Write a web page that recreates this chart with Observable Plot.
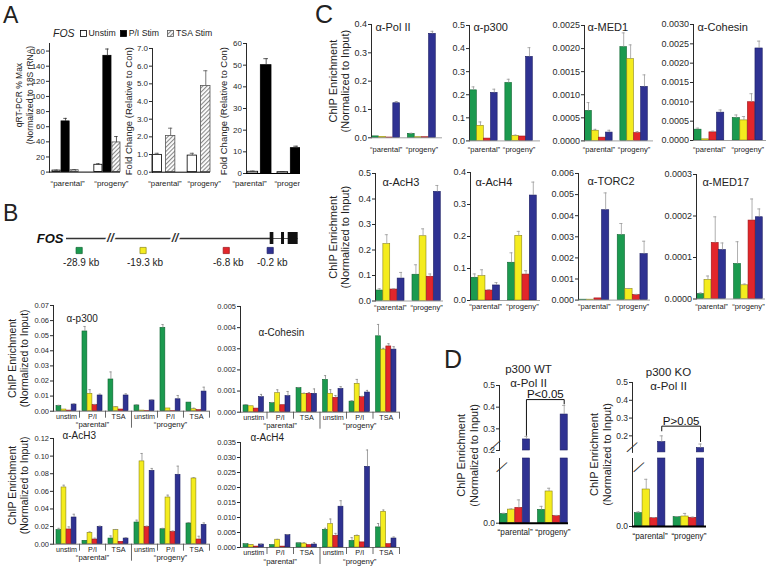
<!DOCTYPE html>
<html><head><meta charset="utf-8">
<script src="https://cdn.jsdelivr.net/npm/d3@7"></script>
<script src="https://cdn.jsdelivr.net/npm/@observablehq/plot@0.6"></script>
<style>
html,body{margin:0;padding:0;background:#fff;}
#fig{position:relative;width:770px;height:568px;overflow:hidden;background:#fff;font-family:'Liberation Sans',Arial,Helvetica,sans-serif;color:#222;}
.plab{position:absolute;line-height:1;font-weight:normal;}
</style></head>
<body>
<svg width="0" height="0" style="position:absolute"><defs>
<pattern id="hatch" width="3" height="3" patternUnits="userSpaceOnUse" patternTransform="rotate(45)">
<rect width="3" height="3" fill="#ffffff"/><rect width="1.1" height="3" fill="#8a8a8a"/></pattern></defs></svg>
<div id="fig"></div>
<script>
// ================= DATA =================
const cellLines = ["parental", "progeny"];
const conditions = ["unstim", "P/I", "TSA"];
const sites = ["-28.9 kb", "-19.3 kb", "-6.8 kb", "-0.2 kb"];
const siteKb = [-28.9, -19.3, -6.8, -0.2];
const siteFill = ["#1b9a4f", "#f4ec1e", "#e2262b", "#2f3292"];
const siteEdge = ["#0f6431", "#8c8615", "#9a1418", "#1b1e63"];

// gene schematic (kb)
const geneName = "FOS";
const geneSpanKb = [-30.8, 0];
const geneBodyKb = [0, 4.0];
const exonsKb = [[-0.2, 0.35], [1.5, 1.95], [2.5, 4.0]];
const breaksKb = [-24.2, -14.5];

// Panel A
const aSeries = ["Unstim", "P/I Stim", "TSA Stim"];
const aFill = ["#ffffff", "#000000", "url(#hatch)"];
const aEdge = ["#000000", "#000000", "#555555"];
const a1Val = [[2.0, 67, 2.5], [9.7, 153.7, 39.2]];
const a1Err = [[0.5, 4, 0.5], [1.3, 9, 7.8]];
const a1Ticks = [0, 20, 40, 60, 80, 100, 120, 140, 160];
const a2Val = [[0.98, 2.05], [0.94, 4.88]];
const a2Err = [[0.09, 0.44], [0.13, 0.86]];
const a2Ticks = [0, 1, 2, 3, 4, 5, 6, 7];
const a3Val = [[0.8, 50], [0.6, 11.7]];
const a3Err = [[0.3, 3], [0.3, 0.9]];
const a3Ticks = [0, 10, 20, 30, 40, 50, 60];

// Panel B (rows: parental unstim, P/I, TSA, progeny unstim, P/I, TSA; cols: sites)
const bP300Val = [[0.0035,0.0011,0.0004,0.0044],[0.0528,0.0115,0.0040,0.0104],[0.0210,0.0026,0.0011,0.0104],[0.0038,0.0004,0.0002,0.0071],[0.0552,0.0018,0.0002,0.0079],[0.0057,0.0013,0.0007,0.0130]];
const bP300Err = [[0.0004,0,0,0.0005],[0.0033,0.0028,0.0005,0.0009],[0.0050,0.0004,0,0.0011],[0.0004,0,0,0.0004],[0.0022,0,0,0.0025],[0,0.0007,0,0.0029]];
const bP300Ticks = [0,0.01,0.02,0.03,0.04,0.05,0.06,0.07];
const bCohVal = [[0.00032,0.00028,0.00017,0.00071],[0.00043,0.00090,0.00033,0.00076],[0.00114,0.00087,0.00087,0.00087],[0.00153,0.00087,0.00068,0.00110],[0.00050,0.00134,0.00071,0.00093],[0.00359,0.00296,0.00311,0.00296]];
const bCohErr = [[0.00004,0,0,0.00013],[0.00003,0.00016,0,0.00022],[0.00003,0.00003,0.00006,0.00023],[0.00020,0.00020,0.00011,0.00011],[0.00004,0.00021,0.00004,0.00010],[0.00056,0.00006,0.00013,0.00014]];
const bCohTicks = [0,0.001,0.002,0.003,0.004,0.005];
const bAcH3Val = [[0.016,0.0644,0.0167,0.0303],[0.0038,0.0129,0.0053,0.0197],[0.0064,0.0159,0.0027,0.0064],[0.0246,0.094,0.0197,0.0833],[0.017,0.053,0.014,0.0788],[0.0235,0.0746,0.0053,0.022]];
const bAcH3Err = [[0.002,0.0026,0.003,0.0037],[0,0.001,0.0015,0.0008],[0.003,0.0008,0,0.001],[0.0027,0.009,0.0008,0.0027],[0.001,0.0027,0.001,0.0098],[0.001,0.001,0.0037,0.0022]];
const bAcH3Ticks = [0,0.02,0.04,0.06,0.08,0.10,0.12];
const bAcH4Val = [[0.0011,0.0009,0.0003,0.0010],[0.0008,0.0026,0.0003,0.0041],[0.0014,0.0013,0.0008,0.0010],[0.0059,0.0078,0.0039,0.0136],[0.0022,0.0039,0.0017,0.0269],[0.0067,0.0119,0.0011,0.0030]];
const bAcH4Err = [[0.0001,0.0001,0,0.0001],[0,0.0001,0,0.0002],[0.0001,0.0003,0,0.0006],[0.0005,0.0017,0.0008,0.002],[0.0011,0.0002,0,0.0056],[0.0013,0.0006,0,0.0005]];
const bAcH4Ticks = [0,0.005,0.010,0.015,0.020,0.025,0.030,0.035];

// Panel C (rows: parental, progeny; cols: sites)
const cPolIIVal = [[0.005,0.0035,0.001,0.122],[0.014,0.002,0.002,0.367]];
const cPolIIErr = [[0,0,0,0.006],[0.002,0,0,0.009]];
const cP300Val = [[0.219,0.065,0.010,0.208],[0.251,0.022,0.019,0.364]];
const cP300Err = [[0.015,0.017,0,0.016],[0.016,0.003,0,0.040]];
const cMed1Val = [[0.00065,0.00022,0.00007,0.00018],[0.00203,0.00177,0.00017,0.00117]];
const cMed1Err = [[0.00018,0.00003,0,0.00005],[0.00031,0.00031,0.00003,0.00026]];
const cCohVal = [[0.00028,0.00003,0.00021,0.00072],[0.00058,0.00052,0.00099,0.00238]];
const cCohErr = [[0.00004,0,0.00003,0.00007],[0.00008,0.0001,0.00022,0.00019]];
const cAcH3Val = [[0.041,0.223,0.045,0.088],[0.103,0.254,0.095,0.428]];
const cAcH3Err = [[0.007,0.037,0.003,0.024],[0.039,0.029,0.011,0.025]];
const cAcH4Val = [[0.071,0.076,0.031,0.047],[0.118,0.202,0.081,0.328]];
const cAcH4Err = [[0.012,0.02,0.003,0.009],[0.031,0.014,0.012,0.042]];
const cTorc2Val = [[0.00002,0.00002,0.00008,0.00426],[0.00308,0.00052,0.00024,0.00218]];
const cTorc2Err = [[0,0,0,0.00082],[0.00055,0.00003,0.00003,0.00061]];
const cMed17Val = [[0.000012,0.0000458,0.000135,0.000118],[0.0000843,0.000033,0.000189,0.000197]];
const cMed17Err = [[0.0000025,0.0000096,0.000063,0.000017],[0.0000537,0.000003,0.000052,0.00002]];
const ticks04 = [0,0.1,0.2,0.3,0.4];
const ticks05 = [0,0.1,0.2,0.3,0.4,0.5];
const ticksMed1 = [0,0.0005,0.0010,0.0015,0.0020,0.0025];
const ticksCoh = [0,0.0005,0.0010,0.0015,0.0020,0.0025,0.0030];
const ticksTorc2 = [0,0.001,0.002,0.003,0.004,0.005,0.006];
const ticksMed17 = [0,0.0001,0.0002,0.0003];

// Panel D
const dWtVal = [[0.0143,0.021,0.0236,0.251],[0.0205,0.049,0.011,0.366]];
const dWtErr = [[0.001,0.001,0.0124,0.014],[0.0055,0.005,0.001,0.042]];
const dKoVal = [[0.0196,0.0544,0.0122,0.165],[0.0137,0.0147,0.0128,0.131]];
const dKoErr = [[0.002,0.015,0.001,0.035],[0.001,0.0045,0.001,0.023]];
const dUpperTicks = [0.2,0.3,0.4,0.5];
const dWtBracket = [0.27, 0.435, 0.435, 0.415];
const dKoBracket = [0.228, 0.2545, 0.2545, 0.168];

const yTitleChIP = "ChIP Enrichment\n(Normalized to Input)";

// ================= HELPERS =================
const FONT = "'Liberation Sans', Arial, Helvetica, sans-serif";
const fig = document.getElementById("fig");
const M = {l: 70, r: 20, t: 34, b: 36};

function put(svg, x0, yTop, parent) {
  const d = document.createElement("div");
  const w = svg.getAttribute("width");
  d.style.cssText = `position:absolute;left:${x0 - M.l}px;top:${yTop - M.t}px;width:${w}px;`;
  d.appendChild(svg); (parent || fig).appendChild(d);
}
function frameOpts(x0, x1, yTop, yBot, fs) {
  return {width: x1 - x0 + M.l + M.r, height: yBot - yTop + M.t + M.b,
    marginLeft: M.l, marginRight: M.r, marginTop: M.t, marginBottom: M.b,
    style: {background: "transparent", overflow: "visible", maxWidth: "none", fontFamily: FONT, fontSize: fs + "px", color: "#2a2a2a"}};
}

function grouped(o) {
  const [x0, x1, yTop, yBot] = o.box;
  const [ax0, ax1] = o.axis || [x0, x1];
  const keys = o.groups.map(g => g.key);
  const rows = [];
  o.groups.forEach((g, gi) => o.series.forEach((s, si) =>
    rows.push({key: g.key, s, si, v: o.vals[gi][si], e: o.errs[gi][si]})));
  const errRows = rows.filter(r => r.e > 0);
  const fxS = d3.scaleBand().domain(keys).range([x0, x1]).paddingInner(o.pi).paddingOuter(o.po);
  const xS = d3.scaleBand().domain(o.series).range([0, fxS.bandwidth()]).paddingInner(o.barPad).paddingOuter(0);
  const cap = xS.bandwidth() * 0.28;
  const marks = o.series.map((s, si) => Plot.barY(rows.filter(r => r.si === si),
    {fx: "key", x: "s", y: "v", fill: o.fills[si], stroke: o.edges[si], strokeWidth: o.edgeWidth || 0.6}));
  marks.push(Plot.ruleX(errRows, {fx: "key", x: "s", y1: "v", y2: r => r.v + r.e, stroke: o.errColor, strokeWidth: 0.8}));
  marks.push(Plot.tickY(errRows, {fx: "key", x: "s", y: r => r.v + r.e, stroke: o.errColor, strokeWidth: 0.8, insetLeft: cap, insetRight: cap}));
  for (const L of o.labels) marks.push(Plot.text(o.groups.filter(L.filter || (() => true)),
    {fx: "key", text: L.text, frameAnchor: "bottom", textAnchor: "middle", dx: L.dx || 0, dy: L.dy, fontSize: L.size, lineAnchor: "middle", fill: "#222"}));
  put(Plot.plot({...frameOpts(x0, x1, yTop, yBot, o.tickFont),
    fx: {domain: keys, paddingInner: o.pi, paddingOuter: o.po, round: false, axis: null, label: null},
    x: {domain: o.series, paddingInner: o.barPad, paddingOuter: 0, round: false, axis: null},
    y: {domain: o.yDomain, axis: null},
    marks}), x0, yTop, o.parent);

  const H = yBot - yTop;
  const ov = [Plot.ruleY([0], {stroke: o.baseColor || "#555", strokeWidth: o.baseWidth || 0.8})];
  if (o.seps) {
    ov.push(Plot.ruleX(o.seps[0], {insetTop: H, insetBottom: -7, stroke: "#444", strokeWidth: 0.8}));
    ov.push(Plot.ruleX(o.seps[1], {insetTop: H, insetBottom: -17, stroke: "#444", strokeWidth: 0.8}));
  }
  if (o.title) ov.push(Plot.text([o.title], {text: d => d, frameAnchor: "top-left", textAnchor: "start", lineAnchor: "middle",
    dx: o.titleAt[0], dy: o.titleAt[1], fontSize: o.titleSize, fill: "#222"}));
  if (o.ytitle) ov.push(Plot.text([o.ytitle], {text: d => d, frameAnchor: "left", textAnchor: "middle", lineAnchor: "middle", rotate: -90,
    dx: o.ytitleAt[0], dy: o.ytitleAt[1], fontSize: o.ytitleSize, lineHeight: o.ytitleLH || 1.15, fill: "#222"}));
  put(Plot.plot({...frameOpts(ax0, ax1, yTop, yBot, o.tickFont),
    x: {domain: [0, keys.length], axis: null},
    y: {domain: o.yDomain, ticks: o.yTicks, tickFormat: d3.format(o.fmt), tickSize: 3, tickPadding: 1.5, label: null, line: true},
    marks: ov}), ax0, yTop, o.parent);
}

function broken(o) {
  const keys = [...sites.map(s => `${cellLines[0]}|${s}`), "gap", ...sites.map(s => `${cellLines[1]}|${s}`)];
  const rows = [];
  cellLines.forEach((l, li) => sites.forEach((s, si) => rows.push({key: `${l}|${s}`, si, v: o.vals[li][si], e: o.errs[li][si]})));
  const xS = d3.scaleBand().domain(keys).range([0, o.x1 - o.x0]).paddingInner(o.pi).paddingOuter(o.po);
  const half = xS.step() / 2, cap = xS.bandwidth() * 0.28;
  const xOpt = {domain: keys, paddingInner: o.pi, paddingOuter: o.po, round: false, axis: null};
  const U = o.upper, L = o.lower;
  const blueKey = l => `${l}|${sites[3]}`;
  // upper segment
  const up = rows.filter(r => r.v > U.lo);
  const upErr = up.filter(r => r.e > 0);
  const um = sites.map((s, si) => Plot.barY(up.filter(r => r.si === si),
    {x: "key", y1: () => U.lo, y2: "v", fill: siteFill[si], stroke: siteEdge[si], strokeWidth: 0.6}));
  um.push(Plot.ruleX(upErr, {x: "key", y1: "v", y2: r => r.v + r.e, stroke: "#999", strokeWidth: 0.8}));
  um.push(Plot.tickY(upErr, {x: "key", y: r => r.v + r.e, stroke: "#999", strokeWidth: 0.8, insetLeft: cap, insetRight: cap}));
  const br = o.bracket.map((y, i) => ({key: blueKey(cellLines[i < 2 ? 0 : 1]), y}));
  um.push(Plot.line(br, {x: "key", y: "y", stroke: "#111", strokeWidth: 1}));
  um.push(Plot.text([{key: `${cellLines[1]}|${sites[0]}`, y: o.bracket[1], t: o.pLabel}],
    {x: "key", y: "y", text: "t", dx: half, dy: -1.5, textAnchor: "middle", lineAnchor: "bottom", fontSize: 11.5, fill: "#111"}));
  um.push(Plot.text([o.title], {text: d => d, frameAnchor: "top-left", textAnchor: "middle", dx: o.titleAt[0], dy: o.titleAt[1],
    lineAnchor: "middle", fontSize: 11.5, lineHeight: 1.2, fill: "#222"}));
  um.push(Plot.text(["—"], {text: d => d, frameAnchor: "bottom-left", textAnchor: "middle", rotate: -42, fontSize: 14, dx: o.slashDx, dy: -2.5, fill: "#333"}));
  put(Plot.plot({...frameOpts(o.x0, o.x1, U.top, U.bottom, 8.5),
    x: xOpt,
    y: {domain: [U.lo, 0.5], clamp: true, ticks: dUpperTicks, tickFormat: d3.format(".1f"), tickSize: 3, tickPadding: 1.5, label: null, line: true},
    marks: um}), o.x0, U.top);
  // lower segment
  const loErr = rows.filter(r => r.e > 0 && r.v + r.e < L.hi);
  const lm = sites.map((s, si) => Plot.barY(rows.filter(r => r.si === si),
    {x: "key", y1: () => 0, y2: "v", fill: siteFill[si], stroke: siteEdge[si], strokeWidth: 0.6}));
  lm.push(Plot.ruleX(loErr, {x: "key", y1: "v", y2: r => r.v + r.e, stroke: "#999", strokeWidth: 0.8}));
  lm.push(Plot.tickY(loErr, {x: "key", y: r => r.v + r.e, stroke: "#999", strokeWidth: 0.8, insetLeft: cap, insetRight: cap}));
  lm.push(Plot.ruleY([0], {stroke: "#000", strokeWidth: 2}));
  lm.push(Plot.text(cellLines, {x: l => `${l}|${sites[1]}`, text: l => `“${l}”`, frameAnchor: "bottom", textAnchor: "middle", dx: half, dy: 9.5, fontSize: 8.2, lineAnchor: "middle", fill: "#222"}));
  lm.push(Plot.text(["—"], {text: d => d, frameAnchor: "top-left", textAnchor: "middle", rotate: -42, fontSize: 14, dx: o.slashDx, dy: 4, fill: "#333"}));
  lm.push(Plot.text([yTitleChIP], {text: d => d, frameAnchor: "left", textAnchor: "middle", lineAnchor: "middle", rotate: -90, dx: -32, dy: o.ytitleDy, fontSize: 11, lineHeight: 1.15, fill: "#222"}));
  put(Plot.plot({...frameOpts(o.x0, o.x1, L.top, L.bottom, 8.5),
    x: xOpt,
    y: {domain: [0, L.hi], clamp: true, ticks: [0], tickFormat: d3.format(".1f"), tickSize: 3, tickPadding: 1.5, label: null, line: true},
    marks: lm}), o.x0, L.top);
}

function letter(t, x, y, fs) {
  const d = document.createElement("div");
  d.className = "plab"; d.textContent = t;
  d.style.left = x + "px"; d.style.top = y + "px"; d.style.fontSize = fs + "px";
  fig.appendChild(d);
}

// ================= PANEL A =================
letter("A", 3, 3.7, 23);
{
  const leg = document.createElement("div");
  leg.style.cssText = "position:absolute;left:53px;top:27px;display:flex;align-items:center;font-size:8.7px;line-height:12px;white-space:nowrap;";
  let h = `<span style="font-style:italic;font-size:10.5px;margin-right:5px">${geneName}</span>`;
  aSeries.forEach((s, i) => {
    h += `<svg width="7" height="7" style="margin-right:2px"><rect x="0.5" y="0.5" width="6" height="6" fill="${aFill[i]}" stroke="${aEdge[i]}" stroke-width="0.8"/></svg><span style="margin-right:${i === 1 ? 8 : 4}px">${s}</span>`;
  });
  leg.innerHTML = h; fig.appendChild(leg);
}
const lineGroups = cellLines.map(l => ({key: l, line: l}));
const quoteLabel = g => `“${g.line}”`;
grouped({vals: a1Val, errs: a1Err, groups: lineGroups, series: aSeries, fills: aFill, edges: aEdge, edgeWidth: 0.8,
  box: [52, 120, 43.4, 172], axis: [49, 120], pi: 0.375, po: 0, barPad: 0.1,
  yDomain: [0, 170], yTicks: a1Ticks, fmt: "d", tickFont: 8, errColor: "#333", baseColor: "#000", baseWidth: 1,
  labels: [{text: quoteLabel, dy: 11, size: 8, filter: g => g.line === "parental", dx: 2}, {text: quoteLabel, dy: 11, size: 8, filter: g => g.line === "progeny", dx: 4}],
  ytitle: "qRT-PCR % Max\n(Normalized to 18S rRNA)", ytitleAt: [-26, -12.7], ytitleSize: 8.5, ytitleLH: 1.3});
grouped({vals: a2Val, errs: a2Err, groups: lineGroups, series: [aSeries[0], aSeries[2]], fills: [aFill[0], aFill[2]], edges: [aEdge[0], aEdge[2]], edgeWidth: 0.8,
  box: [152, 210, 48.3, 172], axis: [152, 210], pi: 0.35, po: 0, barPad: 0.3,
  yDomain: [0, 7], yTicks: a2Ticks, fmt: ".1f", tickFont: 8, errColor: "#555", baseColor: "#000", baseWidth: 1,
  labels: [{text: quoteLabel, dy: 11, size: 7.8, filter: g => g.line === "parental", dx: 1}, {text: quoteLabel, dy: 11, size: 7.8, filter: g => g.line === "progeny", dx: 5}],
  ytitle: "Fold Change (Relative to Con)", ytitleAt: [-24, 0.8], ytitleSize: 9.5});
{
  const clip = document.createElement("div");
  clip.style.cssText = "position:absolute;left:0;top:0;width:300px;height:200px;overflow:hidden;";
  fig.appendChild(clip);
  grouped({vals: a3Val, errs: a3Err, groups: lineGroups, series: [aSeries[0], aSeries[1]], fills: [aFill[0], aFill[1]], edges: [aEdge[0], aEdge[1]], edgeWidth: 0.8,
    box: [247, 301, 43.3, 173.3], axis: [246, 301], pi: 0.2, po: 0, barPad: 0.2,
    yDomain: [0, 60], yTicks: a3Ticks, fmt: "d", tickFont: 8, errColor: "#333", baseColor: "#000", baseWidth: 1,
    labels: [{text: quoteLabel, dy: 10, size: 8, filter: g => g.line === "parental", dx: -10}, {text: quoteLabel, dy: 10, size: 8, filter: g => g.line === "progeny", dx: 2}],
    ytitle: "Fold Change (Relative to Con)", ytitleAt: [-23, 2.7], ytitleSize: 9.5, parent: clip});
}

// ================= PANEL B =================
letter("B", 3, 202, 23);
{
  const probes = siteKb.map((k, i) => ({k, i}));
  const gm = [
    Plot.ruleY([{a: geneSpanKb[0], b: geneSpanKb[1]}], {x1: "a", x2: "b", y: () => 0, stroke: "#333", strokeWidth: 1.6}),
    Plot.ruleY([{a: geneBodyKb[0], b: geneBodyKb[1]}], {x1: "a", x2: "b", y: () => 0, stroke: "#333", strokeWidth: 0.8}),
    Plot.rect(exonsKb, {x1: d => d[0], x2: d => d[1], insetTop: 19, insetBottom: 19, fill: "#111"}),
    Plot.text(breaksKb, {x: d => d, text: () => "//", fontSize: 12, fontWeight: "bold", fontStyle: "italic", fill: "#333", stroke: "#fff", strokeWidth: 4}),
    Plot.text([geneName], {x: () => geneSpanKb[0], text: d => d, dx: -3, textAnchor: "end", fontSize: 13, fontWeight: "bold", fontStyle: "italic", fill: "#111"}),
    ...siteKb.map((k, i) => Plot.dot([probes[i]], {x: "k", symbol: "square", r: 3.5, fill: siteFill[i], stroke: siteEdge[i], strokeWidth: 0.7, dy: 12})),
    Plot.text(probes, {x: "k", text: d => sites[d.i], dx: 2, dy: 24, fontSize: 10, fill: "#222"})
  ];
  const g = Plot.plot({width: 310, height: 50, marginLeft: 66, marginRight: 11, marginTop: 0, marginBottom: 0,
    style: {background: "transparent", overflow: "visible", maxWidth: "none", fontFamily: FONT},
    x: {domain: [-30.8, 4.2], axis: null}, y: {domain: [-1, 1], axis: null}, marks: gm});
  const d = document.createElement("div");
  d.style.cssText = "position:absolute;left:0;top:213px;width:310px;";
  d.appendChild(g); fig.appendChild(d);
}
const condGroups = cellLines.flatMap(l => conditions.map(c => ({key: `${l}|${c}`, line: l, cond: c})));
const bLabels = [{text: "cond", dy: 5.5, size: 7.2}, {text: quoteLabel, dy: 13.5, size: 7.8, filter: g => g.cond === "P/I"}];
const bSeps = [[1, 2, 4, 5, 6], [3]];
const bCommon = {groups: condGroups, series: sites, fills: siteFill, edges: siteEdge, pi: 0.23, po: 0.115, barPad: 0.04,
  tickFont: 7.5, errColor: "#8a8a8a", baseColor: "#555", labels: bLabels, seps: bSeps, titleSize: 10};
grouped({...bCommon, vals: bP300Val, errs: bP300Err, box: [53, 209, 305, 410.7], yDomain: [0, 0.07], yTicks: bP300Ticks, fmt: ".2f",
  title: "α-p300", titleAt: [13, 13], ytitle: yTitleChIP, ytitleAt: [-35, 0], ytitleSize: 10.5});
grouped({...bCommon, vals: bCohVal, errs: bCohErr, box: [240, 399, 306, 411.7], yDomain: [0, 0.005], yTicks: bCohTicks, fmt: ".3f",
  title: "α-Cohesin", titleAt: [18, 26]});
grouped({...bCommon, vals: bAcH3Val, errs: bAcH3Err, box: [53, 209, 438.3, 544], yDomain: [0, 0.12], yTicks: bAcH3Ticks, fmt: ".2f",
  title: "α-AcH3", titleAt: [9, -3], ytitle: yTitleChIP, ytitleAt: [-35, -6], ytitleSize: 10.5});
grouped({...bCommon, vals: bAcH4Val, errs: bAcH4Err, box: [240, 399, 441.7, 546.7], yDomain: [0, 0.035], yTicks: bAcH4Ticks, fmt: ".3f",
  title: "α-AcH4", titleAt: [10, -5]});

// ================= PANEL C =================
letter("C", 315, 1.7, 25);
const cCommon = {groups: lineGroups, series: sites, fills: siteFill, edges: siteEdge, pi: 0.22, po: 0.02, barPad: 0.04,
  tickFont: 9, errColor: "#9a9a9a", baseColor: "#8a8a8a", titleSize: 11};
const cLab = dy => [{text: quoteLabel, dy, size: 7.6}];
grouped({...cCommon, vals: cPolIIVal, errs: cPolIIErr, box: [371, 436, 24, 137.3], axis: [371, 442], yDomain: [0, 0.4], yTicks: ticks04, fmt: ".1f",
  labels: cLab(11.7), title: "α-Pol II", titleAt: [4, 2.7], ytitle: yTitleChIP, ytitleAt: [-32, 0], ytitleSize: 11, ytitleLH: 1.1});
grouped({...cCommon, vals: cP300Val, errs: cP300Err, box: [469, 533, 24.6, 140], axis: [469, 540], yDomain: [0, 0.5], yTicks: ticks05, fmt: ".1f",
  labels: cLab(9), title: "α-p300", titleAt: [4, 2.1]});
grouped({...cCommon, vals: cMed1Val, errs: cMed1Err, box: [584, 648, 24.6, 140], axis: [584, 653], yDomain: [0, 0.0025], yTicks: ticksMed1, fmt: ".4f",
  labels: cLab(9), title: "α-MED1", titleAt: [3, 2.1]});
grouped({...cCommon, vals: cCohVal, errs: cCohErr, box: [693, 763, 24, 140], axis: [693, 766], yDomain: [0, 0.003], yTicks: ticksCoh, fmt: ".4f",
  labels: cLab(9), title: "α-Cohesin", titleAt: [4, 2.7]});
grouped({...cCommon, vals: cAcH3Val, errs: cAcH3Err, box: [375, 441, 172.5, 300], axis: [375, 443], yDomain: [0, 0.5], yTicks: ticks05, fmt: ".1f",
  labels: cLab(6.5), title: "α-AcH3", titleAt: [7, 9.2], ytitle: yTitleChIP, ytitleAt: [-36, 0], ytitleSize: 11, ytitleLH: 1.1});
grouped({...cCommon, vals: cAcH4Val, errs: cAcH4Err, box: [470, 537, 172, 300], axis: [470, 540], yDomain: [0, 0.4], yTicks: ticks04, fmt: ".1f",
  labels: cLab(6.5), title: "α-AcH4", titleAt: [5, 9.7]});
grouped({...cCommon, vals: cTorc2Val, errs: cTorc2Err, box: [578, 648, 173.4, 300], axis: [578, 650], yDomain: [0, 0.006], yTicks: ticksTorc2, fmt: ".3f",
  labels: cLab(6.5), title: "α-TORC2", titleAt: [9, 8.3]});
grouped({...cCommon, vals: cMed17Val, errs: cMed17Err, box: [696, 763, 173.8, 298.3], axis: [696, 765], yDomain: [0, 0.0003], yTicks: ticksMed17, fmt: ".4f",
  labels: cLab(8), title: "α-MED17", titleAt: [6, 8]});

// ================= PANEL D =================
letter("D", 444, 346.7, 25);
broken({vals: dWtVal, errs: dWtErr, x0: 499, x1: 568, pi: 0.06, po: 0.1,
  upper: {lo: 0.2, top: 385, bottom: 450}, lower: {hi: 0.1, top: 458, bottom: 522.7},
  bracket: dWtBracket, pLabel: "P<0.05", title: "p300 WT\nα-Pol II", titleAt: [29, -10], slashDx: -2, ytitleDy: -35.5});
broken({vals: dKoVal, errs: dKoErr, x0: 632, x1: 706, pi: 0.06, po: 0.3,
  upper: {lo: 0.107, top: 382.1, bottom: 452}, lower: {hi: 0.1, top: 458, bottom: 526},
  bracket: dKoBracket, pLabel: "P>0.05", title: "p300 KO\nα-Pol II", titleAt: [36, -4], slashDx: 2, ytitleDy: -38});
</script>
</body></html>
